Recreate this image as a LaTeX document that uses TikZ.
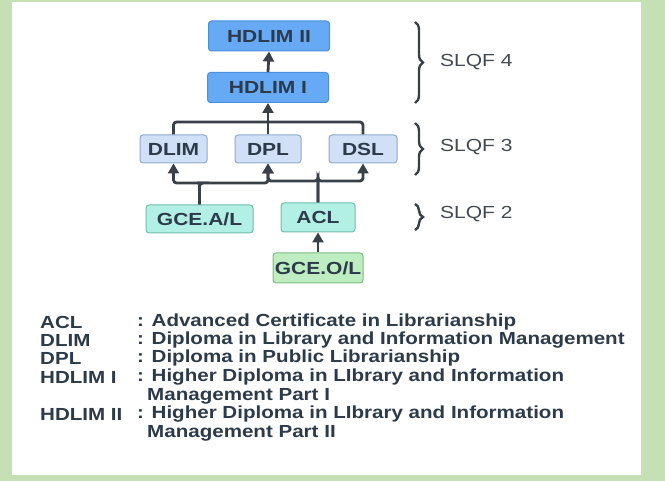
\documentclass[tikz,border=0pt]{standalone}
\usepackage{fontspec}
\setmainfont{Liberation Sans}
\usetikzlibrary{arrows.meta,decorations.pathreplacing}
\definecolor{bgg}{HTML}{C6E0B6}
\definecolor{txt}{HTML}{2C3A4A}
\definecolor{ln}{HTML}{3A4047}
\definecolor{hdfill}{HTML}{66AAF6}
\definecolor{hdline}{HTML}{4A8EDC}
\definecolor{dfill}{HTML}{D0E1F7}
\definecolor{dline}{HTML}{8EAACB}
\definecolor{tfill}{HTML}{B2EFE4}
\definecolor{tline}{HTML}{72BCAC}
\definecolor{gfill}{HTML}{BDEDC0}
\definecolor{gline}{HTML}{7DBB82}
\definecolor{lvltxt}{HTML}{444A50}
\newcommand{\hs}[1]{\scalebox{1.2}[1]{#1}}
\newcommand{\ls}[1]{\scalebox{1.175}[1]{#1}}
\begin{document}
\begin{tikzpicture}[x=1pt,y=-1pt,
  box/.style={draw, rounded corners=3pt, line width=1pt, inner sep=0pt,
    font=\fontsize{17.5}{20}\selectfont\bfseries, text=txt},
  hdl/.style={box, fill=hdfill, draw=hdline, minimum width=121pt, minimum height=30pt},
  dip/.style={box, fill=dfill, draw=dline, minimum height=28pt},
  tea/.style={box, fill=tfill, draw=tline, minimum height=28pt},
  grn/.style={box, fill=gfill, draw=gline, minimum height=30pt},
  conn/.style={draw=ln, line width=2.8pt, rounded corners=3pt},
  arr/.style={conn, -{Triangle[width=11pt,length=10pt]}},
  brc/.style={draw=ln, line width=2.4pt, decorate, decoration={brace, amplitude=8pt}},
  lvl/.style={anchor=west, inner sep=0pt, font=\fontsize{17.5}{20}\selectfont, text=lvltxt},
  leg/.style={anchor=west, inner sep=0pt, font=\fontsize{17.5}{20}\selectfont\bfseries, text=txt}
]
\useasboundingbox (0,0) rectangle (665,481);
\fill[bgg] (0,0) rectangle (665,481);
\fill[white] (12,2) rectangle (641,475);

% nodes
\node[hdl] (h2) at (269,36) {\hs{HDLIM II}};
\node[hdl] (h1) at (268,87.5) {\hs{HDLIM I}};
\node[dip, minimum width=67pt] (dlim) at (173.5,149) {\hs{DLIM}};
\node[dip, minimum width=66pt] (dpl) at (268,149) {\hs{DPL}};
\node[dip, minimum width=68pt] (dsl) at (363,149) {\hs{DSL}};
\node[tea, minimum width=107pt] (gal) at (199.5,219) {\hs{GCE.A/L}};
\node[tea, minimum width=74pt, minimum height=29pt] (acl) at (318,217.5) {\hs{ACL}};
\node[grn, minimum width=90pt] (gol) at (318,268) {\hs{GCE.O/L}};

% connectors
\coordinate (top) at (268,122);
\coordinate (ja) at (200,183);
\coordinate (jc) at (318,181);
\draw[arr] (h1.north) -- (h2.south);
\draw[conn] (dlim.north) |- (top) -| (dsl.north);
\draw[conn] (dpl.north) -- (top);
\draw[arr] (top) -- (h1.south);
\draw[arr] (gal.north) |- (ja) -| (dlim.south);
\draw[arr] (gal.north) |- (ja) -| (dpl.south);
\draw[arr] (acl.north) |- (jc) -| (dpl.south);
\draw[arr] (acl.north) |- (jc) -| (dsl.south);
\draw[arr] (gol.north) -- (acl.south);

% braces
\coordinate (b4a) at (415,22);
\coordinate (b4b) at (415,103);
\coordinate (b3a) at (415,123);
\coordinate (b3b) at (415,175);
\coordinate (b2a) at (415,204);
\coordinate (b2b) at (415,230);
\draw[brc] (b4a) -- (b4b);
\draw[brc] (b3a) -- (b3b);
\draw[brc] (b2a) -- (b2b);
\node[lvl] (s4) at (440,62) {\hs{SLQF 4}};
\node[lvl] (s3) at (440,147) {\hs{SLQF 3}};
\node[lvl] (s2) at (440,214) {\hs{SLQF 2}};

% legend
\node[leg] (k1) at (40,322) {\ls{ACL}};
\node[leg] (v1) at (137,322) {\ls{: Advanced Certificate in Librarianship}};
\node[leg] (k2) at (40,340) {\ls{DLIM}};
\node[leg] (v2) at (137,340) {\ls{: Diploma in Library and Information Management}};
\node[leg] (k3) at (40,358) {\ls{DPL}};
\node[leg] (v3) at (137,358) {\ls{: Diploma in Public Librarianship}};
\node[leg] (k4) at (40,377) {\ls{HDLIM I}};
\node[leg] (v4) at (137,377) {\ls{: Higher Diploma in LIbrary and Information}};
\node[leg] (v4b) at (147,396) {\ls{Management Part I}};
\node[leg] (k5) at (40,414) {\ls{HDLIM II}};
\node[leg] (v5) at (137,414) {\ls{: Higher Diploma in LIbrary and Information}};
\node[leg] (v5b) at (147,433) {\ls{Management Part II}};
\end{tikzpicture}
\end{document}
